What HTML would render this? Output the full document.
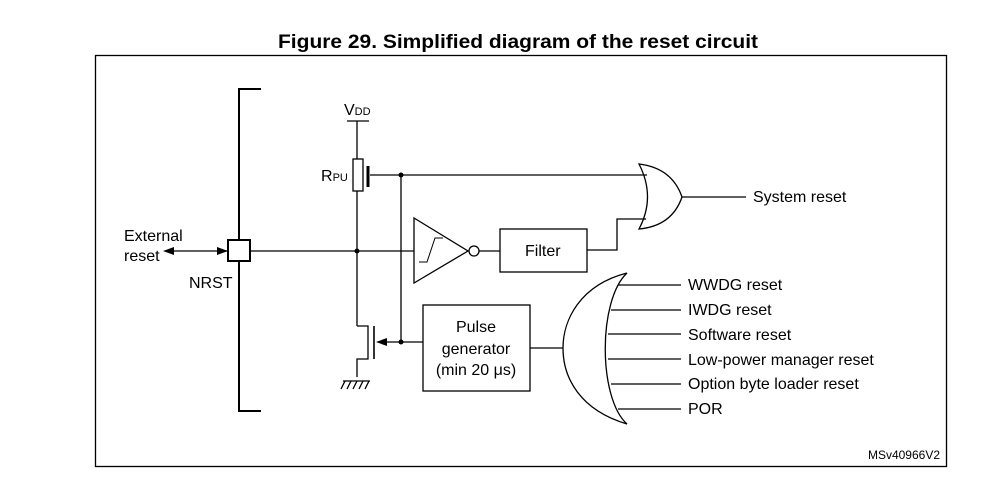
<!DOCTYPE html>
<html><head><meta charset="utf-8"><style>
html,body{margin:0;padding:0;background:#fff;}
svg{display:block;}
text{font-family:"Liberation Sans",Arial,sans-serif;fill:#000;}
</style></head><body>
<svg width="999" height="486" viewBox="0 0 999 486" xmlns="http://www.w3.org/2000/svg">
<text x="518" y="48" font-size="19" font-weight="bold" text-anchor="middle" textLength="480" lengthAdjust="spacingAndGlyphs">Figure 29. Simplified diagram of the reset circuit</text>
<rect x="95.5" y="55.5" width="851" height="411" fill="none" stroke="#000" stroke-width="1.3"/>
<g stroke="#000" stroke-width="1.3" fill="none">
<path d="M261 89 H239 V411 H261" stroke-width="2"/>
<rect x="228" y="240" width="22" height="21" fill="#fff" stroke-width="2"/>
<line x1="172" y1="251" x2="228" y2="251"/>
<line x1="250" y1="251" x2="414" y2="251"/>
<line x1="347" y1="121" x2="369" y2="121"/>
<line x1="357" y1="121" x2="357" y2="159"/>
<rect x="353" y="159" width="10" height="32"/>
<line x1="368" y1="166" x2="368" y2="187" stroke-width="3"/>
<line x1="370" y1="175" x2="647" y2="175"/>
<line x1="401" y1="175" x2="401" y2="342"/>
<line x1="357" y1="191" x2="357" y2="326"/>
<path d="M357 326 H368 V359 H357 V377"/>
<line x1="374" y1="326" x2="374" y2="359" stroke-width="1.6"/>
<line x1="385" y1="342" x2="423" y2="342"/>
<line x1="343" y1="381" x2="370" y2="381"/>
<path d="M341 389 L345 381 M347 389 L351 381 M353 389 L357 381 M359 389 L363 381 M365 389 L369 381"/>
<path d="M414 218 L468 251 L414 283 Z"/>
<path d="M419 262 H427 L435 238 H443 M427 262 L435 238" stroke-width="1"/>
<circle cx="474" cy="251" r="5"/>
<line x1="479" y1="251" x2="500" y2="251"/>
<rect x="500" y="229" width="87" height="43"/>
<path d="M587 250 H617 V219 H646"/>
<path d="M639 164 Q656 197 639 229 Q672 226 682 197 Q672 168 639 164 Z"/>
<line x1="682" y1="197" x2="746" y2="197"/>
<rect x="423" y="305" width="107" height="86"/>
<line x1="530" y1="348" x2="563" y2="348"/>
<path d="M627 273 C580 285 563 320 563 348 C563 378 580 410 627 424"/>
<path d="M627 273 C598 300 598 398 627 424"/>
<line x1="618" y1="285" x2="681" y2="285"/>
<line x1="611" y1="310" x2="681" y2="310"/>
<line x1="608" y1="334" x2="681" y2="334"/>
<line x1="608" y1="359" x2="681" y2="359"/>
<line x1="611" y1="384" x2="681" y2="384"/>
<line x1="618" y1="409" x2="681" y2="409"/>
</g>
<circle cx="357" cy="251" r="2.5"/>
<circle cx="401" cy="175" r="2.5"/>
<circle cx="401" cy="342" r="2.5"/>
<path d="M376 342 L387 338 L387 346 Z"/>
<path d="M163 251 L174 247 L174 255 Z"/>
<path d="M228 251 L217 247 L217 255 Z"/>
<g font-size="16">
<text x="124" y="241">External</text>
<text x="124" y="261">reset</text>
<text x="189" y="288">NRST</text>
<text x="344" y="115">V<tspan font-size="11">DD</tspan></text>
<text x="321" y="181">R<tspan font-size="11">PU</tspan></text>
<text x="525" y="256">Filter</text>
<text x="476" y="332" text-anchor="middle">Pulse</text>
<text x="476" y="354" text-anchor="middle">generator</text>
<text x="476" y="375" text-anchor="middle">(min 20 μs)</text>
<text x="753" y="202">System reset</text>
<text x="688" y="290">WWDG reset</text>
<text x="688" y="315">IWDG reset</text>
<text x="688" y="340">Software reset</text>
<text x="688" y="365">Low-power manager reset</text>
<text x="688" y="389">Option byte loader reset</text>
<text x="688" y="414">POR</text>
</g>
<text x="940" y="459" font-size="12" text-anchor="end">MSv40966V2</text>
</svg>
</body></html>
